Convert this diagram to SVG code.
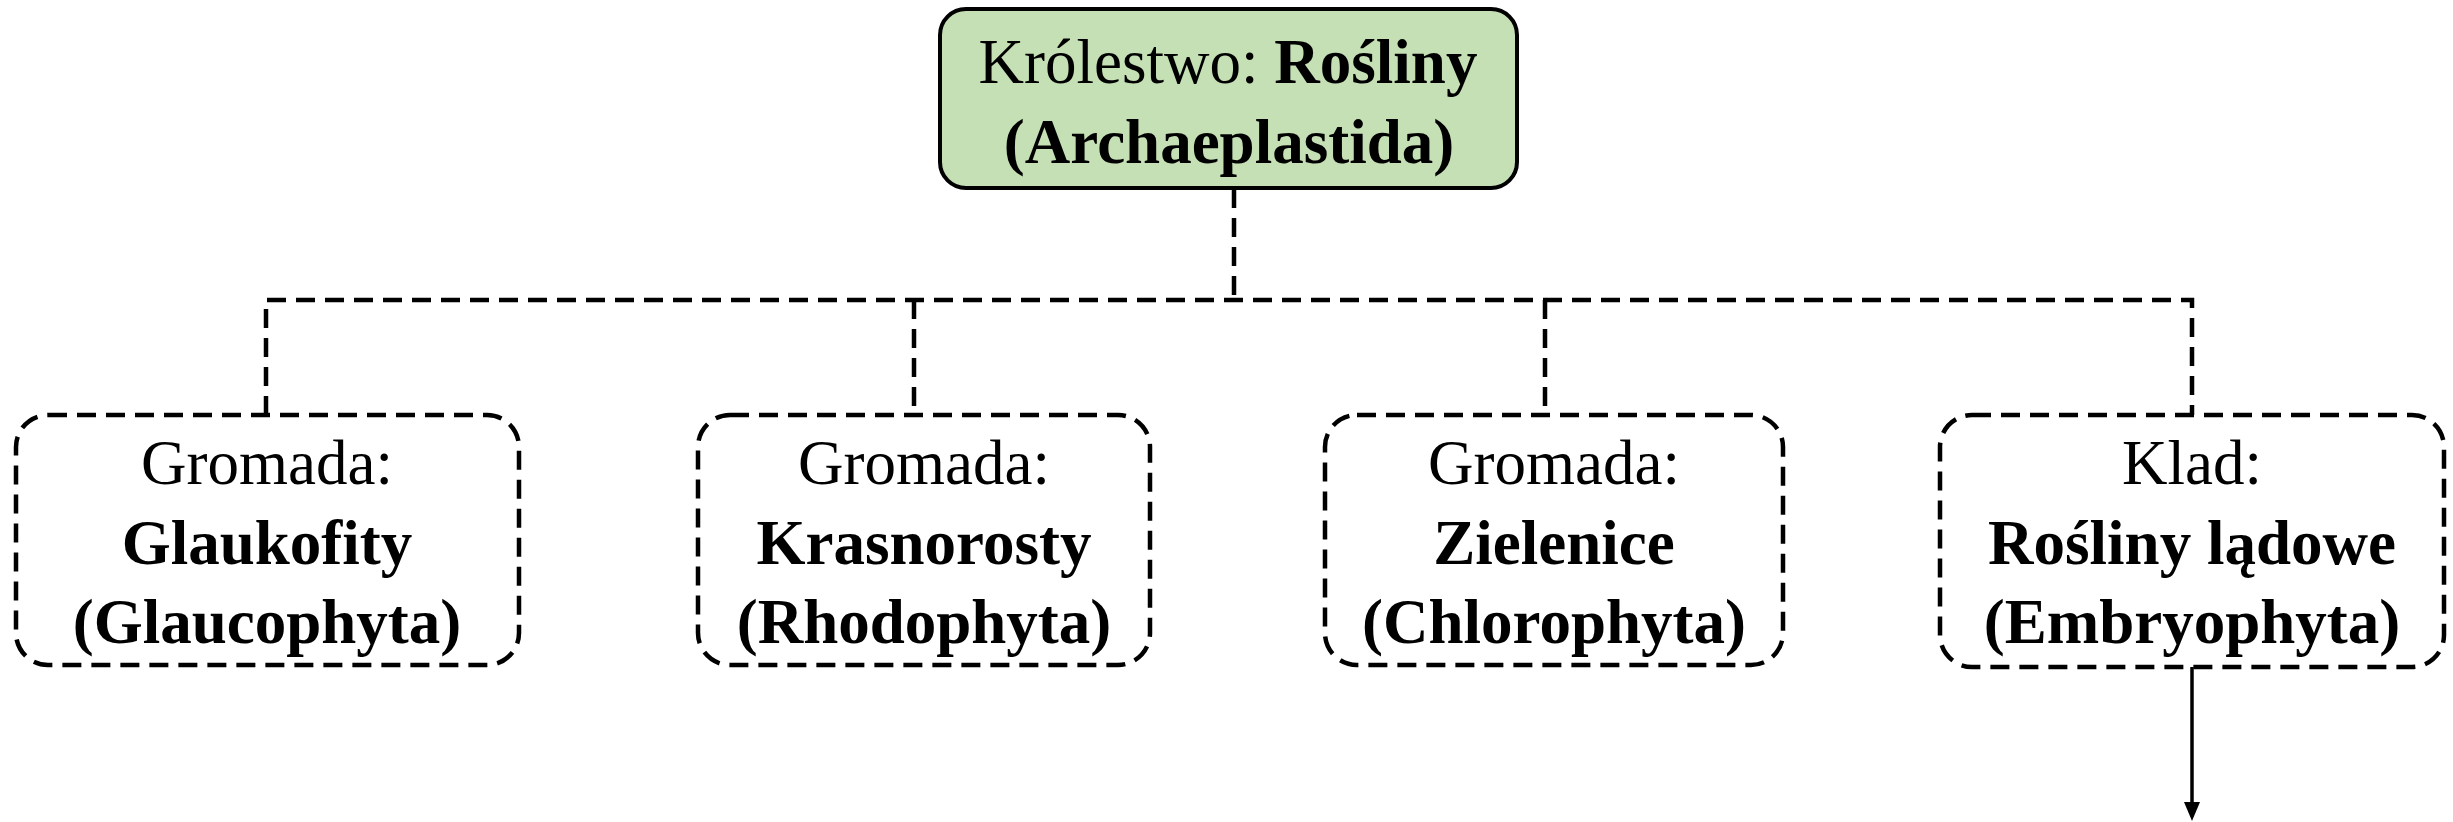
<svg xmlns="http://www.w3.org/2000/svg" width="2453" height="822" viewBox="0 0 2453 822">
<style>
text{font-family:"Liberation Serif","Times New Roman",serif;font-size:63px;fill:#000;text-anchor:middle}
.b{font-weight:bold}
.dash{fill:none;stroke:#000;stroke-width:4.5;stroke-dasharray:19 10}
.box{fill:#fff;stroke:#000;stroke-width:4.5;stroke-dasharray:19 10}
</style>
<g id="connectors">
<path class="dash" d="M1234,189 V300"/>
<path class="dash" d="M266,415 V300 H2192 V415"/>
<path class="dash" d="M914,300 V415"/>
<path class="dash" d="M1545,300 V415"/>
<path d="M2192,667 V804" stroke="#000" stroke-width="3.5" fill="none"/>
<path d="M2184,802 L2200,802 L2192,821 Z" fill="#000"/>
</g>
<g id="kingdom">
<rect x="940" y="9" width="577" height="179" rx="26" fill="#c5e0b4" stroke="#000" stroke-width="4"/>
<text x="1228" y="83">Królestwo: <tspan class="b">Rośliny</tspan></text>
<text x="1229" y="163" class="b">(Archaeplastida)</text>
</g>
<g id="glaukofity">
<rect class="box" x="16" y="415" width="503" height="250" rx="32"/>
<text x="267" y="484">Gromada:</text>
<text x="267" y="564" class="b">Glaukofity</text>
<text x="267" y="643" class="b">(Glaucophyta)</text>
</g>
<g id="krasnorosty">
<rect class="box" x="698" y="415" width="452" height="250" rx="32"/>
<text x="924" y="484">Gromada:</text>
<text x="924" y="564" class="b">Krasnorosty</text>
<text x="924" y="643" class="b">(Rhodophyta)</text>
</g>
<g id="zielenice">
<rect class="box" x="1325" y="415" width="458" height="250" rx="32"/>
<text x="1554" y="484">Gromada:</text>
<text x="1554" y="564" class="b">Zielenice</text>
<text x="1554" y="643" class="b">(Chlorophyta)</text>
</g>
<g id="embryophyta">
<rect class="box" x="1940" y="415" width="504" height="252" rx="32"/>
<text x="2192" y="484">Klad:</text>
<text x="2192" y="564" class="b">Rośliny lądowe</text>
<text x="2192" y="643" class="b">(Embryophyta)</text>
</g>
</svg>
